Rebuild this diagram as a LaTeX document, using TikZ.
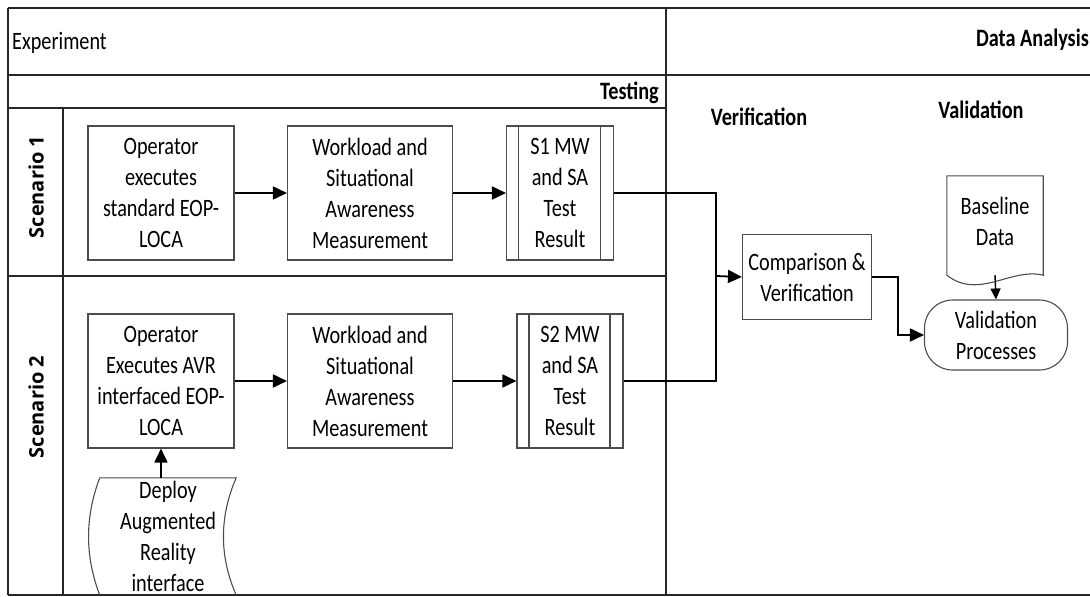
\documentclass[tikz,border=0pt]{standalone}
\usepackage{fontspec}
\setmainfont{Carlito}[FakeStretch=0.81]
\newfontfamily\scenfont{Open Sans}
\usetikzlibrary{arrows.meta}

\begin{document}
\begin{tikzpicture}[
    x=1pt, y=-1pt,
    every node/.style={font=\fontsize{25}{31}\selectfont, inner sep=0pt},
    lane/.style={line width=1.8pt, draw=black!85},
    box/.style={draw=black!70, line width=1.1pt, align=center, minimum height=134pt},
    subproc/.style={box, path picture={
        \draw[black!70, line width=1.1pt]
          ([xshift=12pt]path picture bounding box.north west) -- ([xshift=12pt]path picture bounding box.south west)
          ([xshift=-13pt]path picture bounding box.north east) -- ([xshift=-13pt]path picture bounding box.south east);}},
    title/.style={font=\fontsize{25}{31}\selectfont\bfseries},
    scen/.style={font=\fontsize{20}{24}\selectfont\scenfont\bfseries, rotate=90},
    arrow/.style={line width=1.8pt, -{Triangle[length=14pt, width=13pt]}},
    line/.style={line width=1.8pt},
]
\useasboundingbox (0,0) rectangle (1090,597);

% Lanes
\draw[lane] (8,8) -- (1090,8);
\draw[lane] (8,75) -- (1090,75);
\draw[lane] (8,108) -- (666,108);
\draw[lane] (8,276) -- (666,276);
\draw[lane] (8,595) -- (1090,595);
\draw[lane] (8,8) -- (8,595);
\draw[lane] (666,8) -- (666,595);
\draw[lane] (63,108) -- (63,595);

% Lane titles
\node[anchor=west] (experiment) at (12,43) {Experiment};
\node[title, anchor=east] (analysis) at (1089,40) {Data Analysis};
\node[title, anchor=east] (testing) at (659,93) {Testing};
\node[title] (verif) at (759,117) {Verification};
\node[title] (valid) at (981,110) {Validation};
\node[scen] (scen1) at (36,187) {Scenario 1};
\node[scen] (scen2) at (36,407) {Scenario 2};

% Nodes
\node[box, minimum width=146pt] (op1) at (161,193) {Operator\\executes\\standard EOP-\\LOCA};
\node[box, minimum width=165pt] (wl1) at (370,193) {Workload and\\Situational\\Awareness\\Measurement};
\node[subproc, minimum width=107pt] (res1) at (560,193) {S1 MW\\and SA\\Test\\Result};

\node[box, minimum width=146pt] (op2) at (161,381) {Operator\\Executes AVR\\interfaced EOP-\\LOCA};
\node[box, minimum width=165pt] (wl2) at (370,381) {Workload and\\Situational\\Awareness\\Measurement};
\node[subproc, minimum width=106pt] (res2) at (570,381) {S2 MW\\and SA\\Test\\Result};

\node[align=center, minimum width=136pt, minimum height=117pt] (deploy) at (168,536.5) {Deploy\\Augmented\\Reality\\interface};
\draw[black!70, line width=1.1pt] (deploy.north west) -- (deploy.north east)
    .. controls +(-17,39) and +(-17,-39) .. (deploy.south east)
    (deploy.north west) .. controls +(-15,39) and +(-15,-39) .. (deploy.south west);

\node[box, minimum width=129pt, minimum height=85pt] (cmp) at (807,277) {Comparison \&\\Verification};
\node[draw=black!70, line width=1.1pt, rounded corners=28pt, align=center,
      minimum width=143pt, minimum height=70pt] (val) at (996,335) {Validation\\Processes};

\node[align=center, minimum width=96pt, minimum height=90pt] (base) at (995,221) {Baseline\\Data};
\draw[black!70, line width=1.1pt] ([yshift=-9pt]base.south west) -- (base.north west) -- (base.north east) -- ([yshift=-9pt]base.south east)
    .. controls +(-32,-8) and +(32,25) .. ([yshift=-9pt]base.south west);

% Arrows between nodes
\coordinate (join) at (716,276);
\draw[arrow] (op1) -- (wl1);
\draw[arrow] (wl1) -- (res1);
\draw[arrow] (op2) -- (wl2);
\draw[arrow] (wl2) -- (res2);
\draw[arrow] (op2.south |- deploy.north) -- (op2.south);
\draw[line] (res1.east) -| (join);
\draw[line] (res2.east) -| (join);
\draw[arrow] (join) -- (cmp.west);
\draw[arrow] (cmp.east) -- ++(26,0) |- (val.west);
\draw[line width=1.4pt, -{Triangle[length=11pt, width=10pt]}] ([yshift=-9pt]base.south) -- (val.north);

\end{tikzpicture}
\end{document}
